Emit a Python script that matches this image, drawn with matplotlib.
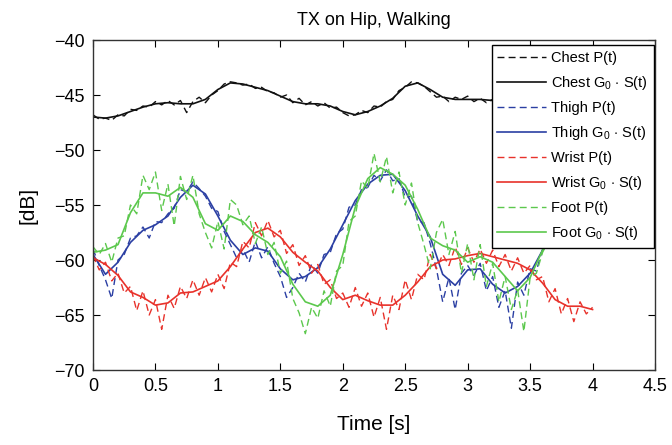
import numpy as np
import matplotlib
matplotlib.use("Agg")
import matplotlib.pyplot as plt

plt.rcParams['font.family'] = ['Liberation Sans', 'DejaVu Sans']
plt.rcParams['mathtext.fontset'] = 'custom'
plt.rcParams['mathtext.rm'] = 'Liberation Sans'
plt.rcParams['mathtext.it'] = 'Liberation Sans'

# time bases
t_s = np.round(np.arange(0, 4.001, 0.1), 2)   # smoothed G0*S(t)
t_p = np.round(np.arange(0, 4.001, 0.05), 2)  # raw P(t)

# smoothed curves, G0 * S(t)  [dB]
chest_s = [-47.0, -47.1, -46.9, -46.5, -46.1, -45.8, -45.7, -45.8, -45.8, -45.4,
           -44.5, -43.9, -44.0, -44.3, -44.6, -45.1, -45.6, -45.8, -45.8, -46.0,
           -46.5, -46.8, -46.5, -46.0, -45.3, -44.2, -43.9, -44.5, -45.2, -45.4,
           -45.4, -45.4, -45.5, -45.6, -45.7, -45.7, -45.6, -45.6, -45.7, -45.8, -45.8]
thigh_s = [-59.5, -61.3, -60.2, -58.4, -57.3, -56.8, -56.0, -54.3, -53.2, -54.0,
           -56.0, -58.2, -59.5, -58.9, -59.2, -60.8, -61.8, -61.5, -60.7, -59.0,
           -56.8, -54.6, -53.1, -52.3, -52.2, -53.7, -56.0, -57.9, -61.3, -62.3,
           -60.9, -60.8, -62.2, -63.0, -62.4, -61.2, -59.1, -57.5, -57.0, -57.2, -57.5]
wrist_s = [-59.8, -60.4, -61.4, -62.9, -63.4, -64.1, -63.9, -63.0, -62.9, -62.4,
           -61.9, -60.6, -59.0, -57.5, -57.1, -57.9, -59.3, -60.2, -61.0, -62.5,
           -63.6, -63.2, -63.7, -64.1, -64.1, -63.2, -62.0, -60.6, -60.0, -59.9,
           -59.6, -59.4, -59.7, -60.0, -60.3, -60.9, -62.1, -63.6, -64.2, -64.2, -64.5]
foot_s = [-59.3, -59.1, -58.6, -55.7, -53.9, -53.9, -54.2, -53.4, -54.3, -56.7,
          -57.3, -56.0, -56.5, -57.7, -58.4, -59.7, -62.2, -63.8, -64.2, -63.2,
          -59.5, -55.2, -52.6, -51.6, -52.2, -53.2, -55.4, -58.0, -58.7, -59.1,
          -60.2, -59.7, -60.2, -61.5, -62.8, -61.6, -59.1, -57.5, -57.0, -57.0, -57.2]

# raw received power P(t)  [dB]
chest_p = [-46.8, -47.2, -47.1, -47.3, -46.8, -46.9, -46.3, -46.4, -46.0, -46.1,
           -45.6, -45.9, -45.5, -45.9, -45.5, -46.6, -45.6, -45.2, -45.7, -45.0,
           -44.6, -44.0, -43.8, -43.9, -44.1, -44.0, -44.4, -44.3, -44.7, -44.8,
           -45.2, -45.0, -45.7, -45.3, -45.9, -45.6, -46.0, -45.7, -46.2, -46.1,
           -46.6, -46.9, -46.8, -46.4, -46.6, -46.0, -46.1, -45.6, -45.4, -44.6,
           -44.3, -43.8, -43.9, -44.2, -44.7, -45.2, -45.1, -45.6, -45.2, -45.4,
           -45.1, -45.6, -45.3, -45.7, -45.4, -45.8, -45.5, -45.9, -45.6, -45.8,
           -45.5, -45.9, -45.6, -45.7, -45.5, -45.9, -45.6, -45.9, -45.7, -45.9, -45.8]
thigh_p = [-59.0, -60.5, -61.8, -63.5, -60.0, -59.5, -58.0, -57.8, -57.0, -58.0,
           -56.5, -56.6, -55.8, -55.3, -53.6, -53.8, -52.9, -53.5, -54.2, -55.3,
           -55.6, -57.4, -58.6, -59.8, -59.0, -60.2, -58.3, -59.8, -58.8, -60.3,
           -61.5, -63.4, -62.5, -61.2, -62.0, -60.4, -61.2, -59.5, -59.3, -57.6,
           -57.2, -55.2, -55.0, -53.6, -53.4, -52.3, -52.8, -51.8, -52.8, -52.6,
           -54.3, -54.2, -56.5, -56.6, -58.5, -60.8, -63.8, -61.6, -64.5, -61.2,
           -60.5, -61.4, -60.3, -62.8, -61.5, -64.3, -62.8, -66.2, -62.0, -63.2,
           -60.8, -61.0, -59.0, -58.4, -57.8, -57.2, -56.8, -57.3, -57.0, -57.6, -57.3]
wrist_p = [-59.6, -60.9, -60.2, -61.9, -61.2, -63.0, -62.4, -64.6, -62.8, -65.0,
           -63.6, -66.3, -63.2, -64.4, -62.4, -63.5, -61.8, -63.2, -61.6, -62.9,
           -61.3, -62.6, -60.2, -60.6, -58.3, -58.9, -56.6, -57.8, -56.4, -57.9,
           -57.3, -59.4, -58.6, -60.5, -59.6, -61.2, -60.4, -62.2, -61.8, -63.5,
           -63.0, -64.3, -62.5, -64.2, -63.0, -65.2, -63.4, -66.3, -63.2, -64.5,
           -61.8, -63.6, -61.3, -61.8, -59.5, -60.8, -59.5, -60.5, -58.8, -60.4,
           -58.9, -60.2, -59.0, -60.3, -59.1, -60.6, -59.5, -61.0, -59.8, -61.2,
           -60.5, -61.8, -61.5, -63.8, -62.6, -64.9, -63.5, -65.6, -63.8, -64.9, -64.3]
foot_p = [-58.8, -59.5, -58.5, -60.2, -58.0, -57.8, -55.0, -55.8, -52.3, -53.6,
          -52.0, -55.5, -53.1, -56.9, -52.4, -54.5, -52.3, -55.8, -57.5, -58.9,
          -56.5, -59.0, -54.5, -55.0, -56.8, -56.0, -58.5, -57.0, -59.5, -58.4,
          -61.2, -60.1, -63.5, -64.8, -66.7, -64.3, -65.3, -62.8, -64.2, -61.0,
          -60.5, -56.5, -56.0, -52.8, -53.5, -50.3, -52.9, -50.6, -53.9, -52.0,
          -55.0, -53.0, -56.6, -58.6, -60.8, -57.5, -56.3, -59.5, -57.4, -61.2,
          -58.5, -61.8, -58.6, -62.4, -60.3, -63.8, -61.5, -64.5, -62.7, -66.5,
          -61.6, -61.2, -59.3, -58.2, -57.3, -57.8, -56.8, -57.2, -56.9, -57.4, -57.1]

names = ["Chest", "Thigh", "Wrist", "Foot"]
colors = ["#111111", "#2b3fa3", "#e8322b", "#5cc84d"]
raw = [chest_p, thigh_p, wrist_p, foot_p]
smooth = [chest_s, thigh_s, wrist_s, foot_s]

fig = plt.figure(figsize=(6.72, 4.45), dpi=100)
ax = fig.add_axes([0.1384, 0.1685, 0.8363, 0.7416])

for name, c, p, s in zip(names, colors, raw, smooth):
    ax.plot(t_p, p, color=c, lw=1.0, dashes=(5, 3), label=name + " P(t)")
    ax.plot(t_s, s, color=c, lw=1.2, label=name + r" G$_0$ $\cdot$ S(t)")

ax.set_xlim(0, 4.5)
ax.set_ylim(-70, -40)
ax.set_xticks(np.arange(0, 4.51, 0.5))
ax.set_xticklabels(["0", "0.5", "1", "1.5", "2", "2.5", "3", "3.5", "4", "4.5"])
ax.set_yticks(np.arange(-70, -39, 5))
ax.set_yticklabels(["\u221270", "\u221265", "\u221260", "\u221255", "\u221250", "\u221245", "\u221240"])
ax.tick_params(direction="in", top=True, right=True, length=5, width=0.8,
               labelsize=13, pad=6)
for sp in ax.spines.values():
    sp.set_linewidth(1.0)
    sp.set_color("#333333")

ax.set_xlabel("Time [s]", fontsize=15, labelpad=14)
ax.set_ylabel("[dB]", fontsize=15, labelpad=12)
ax.set_title("TX on Hip, Walking", fontsize=13, pad=11)

leg = ax.legend(loc="upper right", bbox_to_anchor=(1.011, 1.006), fontsize=10.5,
                handlelength=3.3, labelspacing=0.62, borderpad=0.4,
                handletextpad=0.4, fancybox=False, framealpha=1.0)
leg.get_frame().set_edgecolor("black")
leg.get_frame().set_linewidth(1.0)

fig.savefig("out.png", dpi=100)
